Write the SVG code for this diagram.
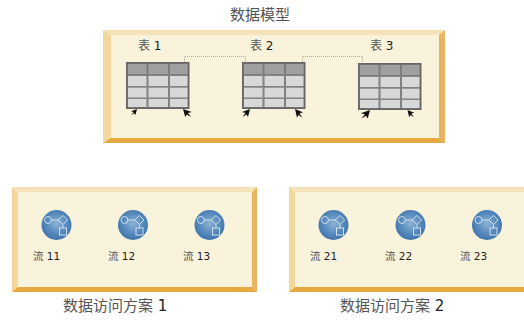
<svg xmlns="http://www.w3.org/2000/svg" width="524" height="321" viewBox="0 0 524 321">
<style>
text{font-family:"DejaVu Sans","Noto Sans CJK SC",sans-serif;fill:#222}
tspan.c{fill:#555}
.t{font-size:15px}.m{font-size:12px}.s{font-size:10.5px}
.link{fill:none;stroke:#aaa99a;stroke-width:1;stroke-dasharray:1 1}
.glyph{fill:none;stroke:#cfdfee;stroke-width:1}
</style>
<defs>
<radialGradient id="ball" cx="0.5" cy="0.45" r="0.6"><stop offset="0" stop-color="#8fb2d3"/><stop offset="0.5" stop-color="#5b8fc0"/><stop offset="1" stop-color="#3a6fa8"/></radialGradient>
<g id="table">
<rect x="0.75" y="0.75" width="62" height="45.500" fill="#7c7c7c" stroke="#666" stroke-width="1.500"/>
<g fill="#a0a0a0">
<rect x="2" y="2" width="18.500" height="10"/><rect x="22.500" y="2" width="19.500" height="10"/><rect x="44" y="2" width="17.500" height="10"/>
</g>
<g fill="#d8d8d8">
<rect x="2" y="14" width="18.500" height="10"/><rect x="22.500" y="14" width="19.500" height="10"/><rect x="44" y="14" width="17.500" height="10"/>
<rect x="2" y="25.500" width="18.500" height="10"/><rect x="22.500" y="25.500" width="19.500" height="10"/><rect x="44" y="25.500" width="17.500" height="10"/>
<rect x="2" y="37" width="18.500" height="8"/><rect x="22.500" y="37" width="19.500" height="8"/><rect x="44" y="37" width="17.500" height="8"/>
</g>
<path d="M2 13.500H61.500M2 25H61.500M2 36.500H61.500M21.500 13V45M43 13V45" stroke="#888" stroke-width="0.800" fill="none"/>
</g>
<g id="flow">
<circle cx="15.500" cy="15.500" r="15" fill="url(#ball)"/>
<circle cx="7" cy="10.500" r="3.500" class="glyph"/>
<path d="M10.500 10.500H17M17 10.500l5-4.500 4.500 4.500-4.500 4.500zM22 15v3.500" class="glyph"/>
<rect x="18.500" y="18.500" width="7" height="7" class="glyph"/>
</g>
<path id="ptr" d="M0 0L-8 3-4.500 4-7.500 8-3.500 5.500-2 8z" fill="#111"/>
</defs>

<g id="model">
<rect x="103" y="30" width="342" height="113" fill="#faf3dc"/>
<path d="M103 30H445L439 35H111z" fill="#f6e2b8"/>
<path d="M103 30L111 35V138L103 143z" fill="#f4d79c"/>
<path d="M445 30V143L439 138V35z" fill="#e8b660"/>
<path d="M103 143L111 138H439L445 143z" fill="#e5a93f"/>
<text x="230" y="20" class="t"><tspan class="c">数据模型</tspan></text>
</g>

<g id="connectors">
<path class="link" d="M184.500 62V56.500H245.500V62"/>
<path class="link" d="M302.500 62V56.500H362.500V63"/>
</g>

<g id="table1"><use href="#table" x="126" y="62"/><text x="138" y="50" class="m"><tspan class="c">表</tspan> 1</text>
<use href="#ptr" transform="translate(137 109) scale(0.750)"/><use href="#ptr" transform="translate(183 109) scale(-1.100 1)"/></g>
<g id="table2"><use href="#table" x="242" y="62"/><text x="250" y="50" class="m"><tspan class="c">表</tspan> 2</text>
<use href="#ptr" transform="translate(250 109)"/><use href="#ptr" transform="translate(295 109) scale(-1 1.100)"/></g>
<g id="table3"><use href="#table" x="358" y="63"/><text x="370" y="50" class="m"><tspan class="c">表</tspan> 3</text>
<use href="#ptr" transform="translate(370 110) scale(1.150 1.050)"/><use href="#ptr" transform="translate(407.500 110) scale(-0.850 0.900)"/></g>

<g id="plan1">
<rect x="12" y="187" width="245" height="105" fill="#faf3dc"/>
<path d="M12 187H257L252 192H18z" fill="#f6e2b8"/>
<path d="M12 187L18 192V287L12 292z" fill="#f4d79c"/>
<path d="M257 187V292L252 287V192z" fill="#e8b660"/>
<path d="M12 292L18 287H252L257 292z" fill="#e5a93f"/>
<text x="63" y="311" class="t"><tspan class="c">数据访问方案</tspan> 1</text>
</g>
<g id="plan2">
<rect x="289" y="187" width="235" height="105" fill="#faf3dc"/>
<path d="M289 187H524V192H295z" fill="#f6e2b8"/>
<path d="M289 187L295 192V287L289 292z" fill="#f4d79c"/>
<path d="M289 292L295 287H524V292z" fill="#e5a93f"/>
<text x="340" y="311" class="t"><tspan class="c">数据访问方案</tspan> 2</text>
</g>

<g id="flow11"><use href="#flow" x="41" y="209.500"/><text x="33" y="260" class="s"><tspan class="c">流</tspan> 11</text></g>
<g id="flow12"><use href="#flow" x="117.500" y="209.500"/><text x="108" y="260" class="s"><tspan class="c">流</tspan> 12</text></g>
<g id="flow13"><use href="#flow" x="194" y="209.500"/><text x="183" y="260" class="s"><tspan class="c">流</tspan> 13</text></g>
<g id="flow21"><use href="#flow" x="318" y="209.500"/><text x="310" y="260" class="s"><tspan class="c">流</tspan> 21</text></g>
<g id="flow22"><use href="#flow" x="395" y="209.500"/><text x="385" y="260" class="s"><tspan class="c">流</tspan> 22</text></g>
<g id="flow23"><use href="#flow" x="471.500" y="209.500"/><text x="460" y="260" class="s"><tspan class="c">流</tspan> 23</text></g>
</svg>
